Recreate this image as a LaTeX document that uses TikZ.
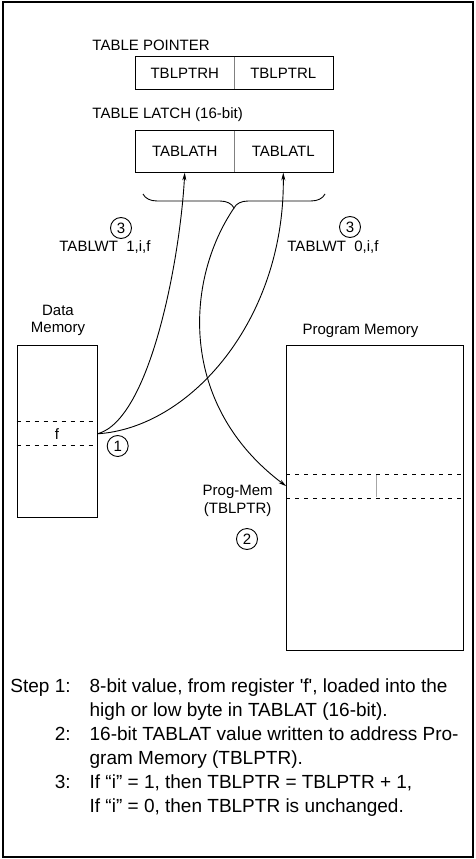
\documentclass[tikz,border=0pt]{standalone}
\usepackage{fontspec}
\setmainfont{Liberation Sans}
\usepackage{tikz}
\usetikzlibrary{arrows.meta,decorations.pathreplacing}

\begin{document}
\begin{tikzpicture}[
  x=1pt, y=-1pt, line width=0.9pt,
  lbl/.style={font=\fontsize{15}{17.5}\selectfont, inner sep=0pt},
  reg/.style={lbl, minimum width=98.5pt, minimum height=#1},
  num/.style={circle, draw, minimum size=21pt, inner sep=0pt, font=\fontsize{15}{17.5}\selectfont},
  mem/.style={draw, inner sep=0pt},
  cell/.style={inner sep=0pt, font=\fontsize{15}{17.5}\selectfont},
  dsh/.style={dash pattern=on 4pt off 5pt, line width=0.8pt},
  arr/.style={-{Stealth[length=8pt,width=4pt]}}
]
% table write: register -> latch -> program memory
\useasboundingbox (0,0) rectangle (475,859);
\draw[line width=1.6pt] (3,2) rectangle (473,857);

\node[lbl, anchor=west] (ptrlbl) at (92,45) {TABLE POINTER};
\node[reg=32pt] (ptrh) at (184.75,73) {TBLPTRH};
\node[reg=32pt] (ptrl) at (283.25,73) {TBLPTRL};
\draw (ptrh.north west) rectangle (ptrl.south east);
\draw[gray] (ptrh.north east) -- (ptrh.south east);

\node[lbl, anchor=west] (latlbl) at (92,115) {TABLE LATCH (16-bit)};
\node[reg=41pt] (lath) at (184.75,151.5) {TABLATH};
\node[reg=41pt] (latl) at (283.25,151.5) {TABLATL};
\draw (lath.north west) rectangle (latl.south east);
\draw[gray] (lath.north east) -- (lath.south east);

\draw[decorate, decoration={brace, amplitude=14pt}] (325,194) -- (143,194);
\coordinate (tip) at (234,208);

\node[lbl, align=center] (dlbl) at (58,320.5) {Data\\Memory};
\node[mem, minimum width=80pt, minimum height=172pt] (dmem) at (57,431.7) {};
\node[cell, minimum width=80pt, minimum height=23pt] (fcell) at (57,433.8) {f};
\draw[dsh] (fcell.north west) -- (fcell.north east);
\draw[dsh] (fcell.south west) -- (fcell.south east);

\node[lbl] (plbl) at (360.5,330.7) {Program Memory};
\node[mem, minimum width=176.6pt, minimum height=305pt] (pmem) at (375,498.2) {};
\node[cell, minimum width=176.6pt, minimum height=23.7pt] (pcell) at (375,486.2) {};
\draw[dsh] (pcell.north west) -- (pcell.north east);
\draw[dsh] (pcell.south west) -- (pcell.south east);
\draw[gray!70] ([xshift=1pt,yshift=-1.5pt]pcell.north) -- ([xshift=1pt,yshift=1.5pt]pcell.south);
\node[lbl, align=center] (pmlbl) at (237.7,500.8) {Prog-Mem\\(TBLPTR)};

\node[num] (n1) at (117.7,446) {1};
\node[num] (n2) at (247,539) {2};
\node[num] (n3a) at (121,228) {3};
\node[num] (n3b) at (350,227) {3};
\node[lbl] (wt1) at (105,247) {TABLWT\ \ 1,i,f};
\node[lbl] (wt0) at (333,247) {TABLWT\ \ 0,i,f};

\draw[arr] (fcell.east) .. controls (150,420) and (180,260) .. (lath.south);
\draw[arr] (fcell.east) .. controls (190,428) and (285,320) .. (latl.south);
\draw[arr] (tip) .. controls (185,280) and (178,405) .. (pcell.west);

\node[anchor=north west, inner sep=0pt, font=\fontsize{19}{24}\selectfont] (steps) at (10,675) {%
\begin{tabular}{@{}r@{\hspace{19pt}}l@{}}
Step 1: & 8-bit value, from register \textquotesingle f\textquotesingle, loaded into the\\
 & high or low byte in TABLAT (16-bit).\\
2: & 16-bit TABLAT value written to address Pro-\\
 & gram Memory (TBLPTR).\\
3: & If “i” = 1, then TBLPTR = TBLPTR + 1,\\
 & If “i” = 0, then TBLPTR is unchanged.
\end{tabular}};
\end{tikzpicture}
\end{document}
